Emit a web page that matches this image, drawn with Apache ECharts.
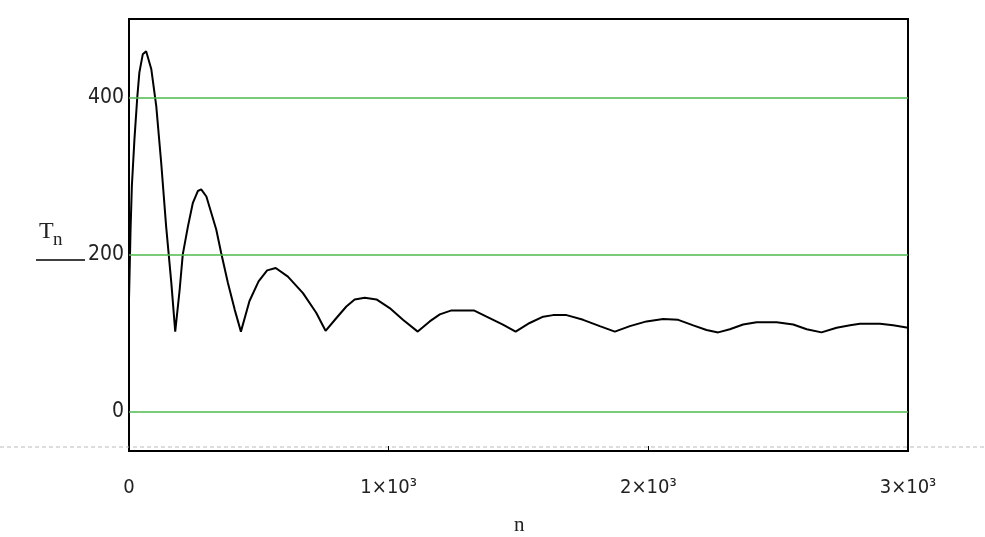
<!DOCTYPE html>
<html>
<head>
<meta charset="utf-8">
<script src="https://cdn.jsdelivr.net/npm/echarts@6/dist/echarts.min.js"></script>
<style>
  html, body { margin: 0; padding: 0; background: #fff; }
  #chart { width: 985px; height: 537px; }
</style>
</head>
<body>
<div id="chart"></div>
<script>
// n values and T_n
var nValues = [0, 6, 11, 21, 32, 40, 53, 66, 86, 105, 124, 143, 163, 178, 195, 207, 227, 246, 265, 278,
    298, 317, 336, 355, 381, 407, 431, 464, 499, 532, 565, 612, 670, 721, 757, 798, 837, 869, 908, 953,
    1004, 1055, 1112, 1158, 1197, 1242, 1328, 1377, 1440, 1489, 1543, 1595, 1633, 1685, 1749, 1813, 1871, 1929, 1993, 2057,
    2115, 2173, 2224, 2269, 2314, 2365, 2417, 2494, 2558, 2610, 2667, 2725, 2777, 2815, 2892, 2943, 3000];
var tValues = [143, 232, 287, 347, 401, 432, 455, 459, 436, 389, 317, 236, 164, 102, 155, 200, 236, 266, 281, 283,
    274, 253, 232, 202, 164, 130, 102, 141, 166, 180, 183, 172, 151, 126, 103, 119, 134, 143, 145, 143,
    132, 117, 102, 115, 124, 129, 129, 121, 111, 102, 113, 121, 123, 123, 117, 109, 102, 109, 115, 118,
    117, 110, 104, 101, 105, 111, 114, 114, 111, 105, 101, 107, 110, 112, 112, 110, 107];

var gridValues = [0, 200, 400];
var yLabelValues = [0, 200, 400];

var seriesData = [];
for (var i = 0; i < nValues.length; i++) {
    seriesData.push([nValues[i], tValues[i]]);
}

var dom = document.getElementById('chart');
var myChart = echarts.init(dom);

var labelFont = '"Liberation Sans Narrow", "DejaVu Sans Condensed", "Liberation Sans", sans-serif';
var serifFont = '"Liberation Serif", "DejaVu Serif", serif';

var option = {
    animation: false,
    backgroundColor: '#fff',
    grid: {
        left: 129,
        right: 77,
        top: 19,
        bottom: 86,
        show: true,
        borderColor: '#000',
        borderWidth: 2
    },
    xAxis: {
        type: 'value',
        min: 0,
        max: 3000,
        interval: 1000,
        axisLine: { show: false, onZero: false },
        axisTick: { show: true, inside: true, length: 5, lineStyle: { color: '#000', width: 1 } },
        splitLine: { show: false },
        axisLabel: {
            margin: 27,
            color: '#222',
            fontFamily: labelFont,
            fontSize: 20,
            formatter: function (v) {
                if (v === 0) return '0';
                return (v / 1000) + '×10³';
            }
        }
    },
    yAxis: {
        type: 'value',
        min: -50,
        max: 500,
        interval: 50,
        axisLine: { show: false },
        axisTick: { show: false },
        splitLine: { show: false },
        axisLabel: {
            margin: 5,
            color: '#222',
            fontFamily: labelFont,
            fontSize: 21,
            padding: [6, 0, 0, 0],
            formatter: function (v) {
                return yLabelValues.indexOf(v) >= 0 ? String(v) : '';
            }
        }
    },
    series: [{
        type: 'line',
        data: seriesData,
        showSymbol: false,
        smooth: false,
        lineStyle: { color: '#000', width: 2 },
        markLine: {
            silent: true,
            symbol: 'none',
            label: { show: false },
            lineStyle: { color: '#4cb84c', type: 'solid', width: 1.5 },
            data: gridValues.map(function (v) { return { yAxis: v }; })
        },
        z: 3
    }],
    graphic: [
        {
            type: 'line',
            shape: { x1: 0, y1: 447, x2: 985, y2: 447 },
            style: { stroke: '#bbb', lineWidth: 1, lineDash: [4, 3] },
            z: 0
        },
        {
            type: 'text',
            left: 39, top: 220,
            style: { text: 'T', font: '24px ' + serifFont, fill: '#222' }
        },
        {
            type: 'text',
            left: 53, top: 231,
            style: { text: 'n', font: '19px ' + serifFont, fill: '#222' }
        },
        {
            type: 'line',
            shape: { x1: 36, y1: 260, x2: 85, y2: 260 },
            style: { stroke: '#000', lineWidth: 1.5 }
        },
        {
            type: 'text',
            left: 514, top: 515,
            style: { text: 'n', font: '21px ' + serifFont, fill: '#222' }
        }
    ]
};

if (option && typeof option === 'object') {
    myChart.setOption(option, true);
}
</script>
</body>
</html>
